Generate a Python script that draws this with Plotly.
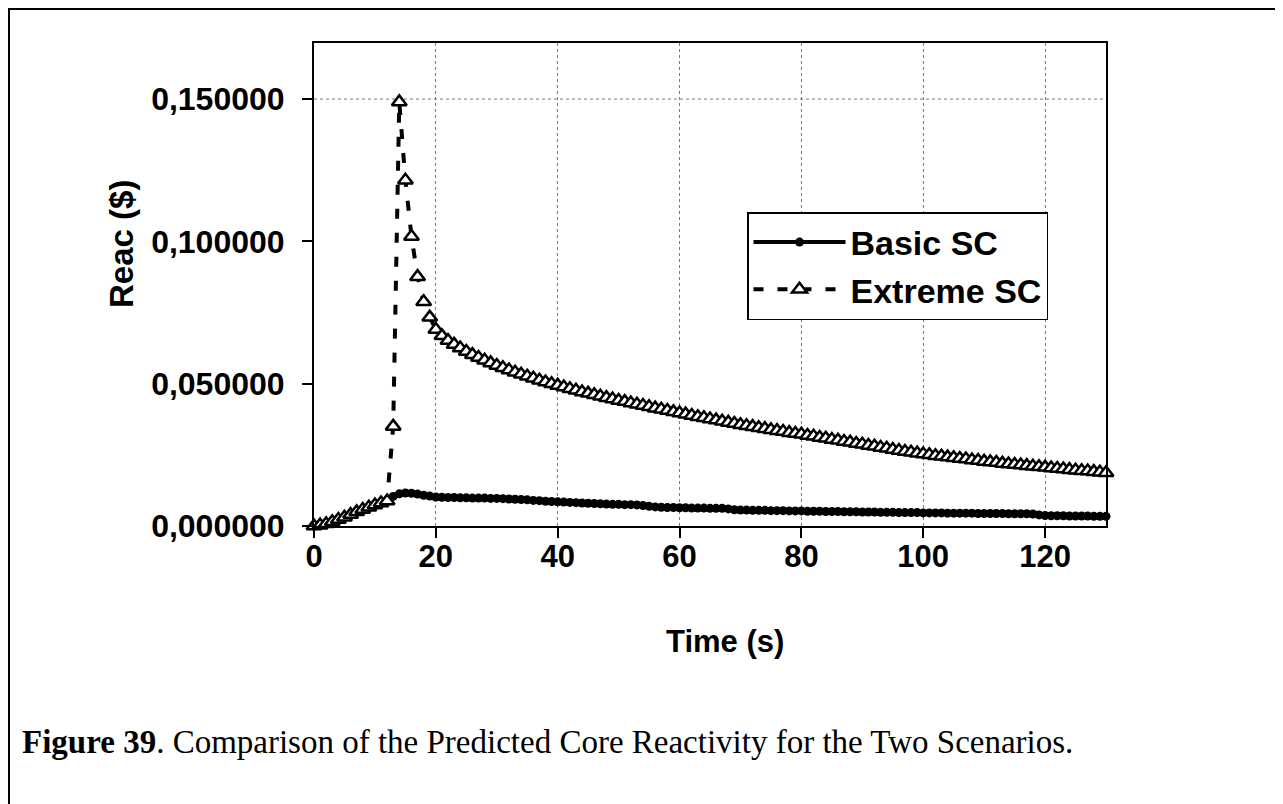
"""
plot.py - core reactivity for the two sub-criticality scenarios
"""
import plotly.graph_objects as go

# time in seconds, one point per second
TIME = list(range(0, 131))

BASIC_SC = [
    0.0000, 0.0003, 0.0008, 0.0015, 0.0023, 0.0031, 0.0040, 0.0050, 0.0058, 0.0066,
    0.0074, 0.0081, 0.0088, 0.0104, 0.0113, 0.0116, 0.0115, 0.0112, 0.0108, 0.0105,
    0.0102, 0.0101, 0.0100, 0.0100, 0.0099, 0.0099, 0.0098, 0.0098, 0.0098, 0.0097,
    0.0097, 0.0096, 0.0095, 0.0094, 0.0093, 0.0092, 0.0090, 0.0089, 0.0087, 0.0086,
    0.0085, 0.0084, 0.0083, 0.0082, 0.0081, 0.0080, 0.0079, 0.0078, 0.0077, 0.0076,
    0.0076, 0.0075, 0.0075, 0.0074, 0.0072, 0.0069, 0.0067, 0.0066, 0.0065, 0.0065,
    0.0064, 0.0064, 0.0063, 0.0063, 0.0063, 0.0062, 0.0062, 0.0062, 0.0060, 0.0057,
    0.0056, 0.0056, 0.0055, 0.0055, 0.0055, 0.0054, 0.0054, 0.0054, 0.0053, 0.0053,
    0.0053, 0.0052, 0.0052, 0.0052, 0.0051, 0.0051, 0.0051, 0.0050, 0.0050, 0.0050,
    0.0049, 0.0049, 0.0049, 0.0048, 0.0048, 0.0048, 0.0047, 0.0047, 0.0047, 0.0047,
    0.0046, 0.0046, 0.0046, 0.0046, 0.0045, 0.0045, 0.0045, 0.0045, 0.0045, 0.0044,
    0.0044, 0.0044, 0.0044, 0.0044, 0.0043, 0.0043, 0.0043, 0.0043, 0.0042, 0.0039,
    0.0037, 0.0036, 0.0036, 0.0036, 0.0035, 0.0035, 0.0035, 0.0035, 0.0034, 0.0034,
    0.0034,
]

EXTREME_SC = [
    0.0000, 0.0003, 0.0008, 0.0015, 0.0023, 0.0031, 0.0040, 0.0050, 0.0058, 0.0066,
    0.0074, 0.0081, 0.0088, 0.0350, 0.1490, 0.1215, 0.1017, 0.0876, 0.0788, 0.0733,
    0.0690, 0.0668, 0.0652, 0.0638, 0.0625, 0.0613, 0.0602, 0.0592, 0.0582, 0.0573,
    0.0564, 0.0556, 0.0548, 0.0540, 0.0533, 0.0526, 0.0519, 0.0512, 0.0506, 0.0500,
    0.0494, 0.0488, 0.0482, 0.0477, 0.0471, 0.0466, 0.0461, 0.0456, 0.0451, 0.0446,
    0.0441, 0.0437, 0.0432, 0.0428, 0.0423, 0.0419, 0.0414, 0.0410, 0.0406, 0.0401,
    0.0397, 0.0393, 0.0388, 0.0384, 0.0380, 0.0376, 0.0372, 0.0368, 0.0364, 0.0360,
    0.0356, 0.0352, 0.0349, 0.0345, 0.0342, 0.0338, 0.0335, 0.0332, 0.0328, 0.0325,
    0.0322, 0.0318, 0.0315, 0.0311, 0.0308, 0.0304, 0.0301, 0.0297, 0.0294, 0.0290,
    0.0287, 0.0283, 0.0280, 0.0276, 0.0273, 0.0269, 0.0265, 0.0262, 0.0259, 0.0256,
    0.0253, 0.0250, 0.0247, 0.0245, 0.0242, 0.0240, 0.0237, 0.0235, 0.0232, 0.0230,
    0.0227, 0.0225, 0.0223, 0.0220, 0.0218, 0.0216, 0.0214, 0.0212, 0.0210, 0.0208,
    0.0206, 0.0204, 0.0202, 0.0200, 0.0198, 0.0196, 0.0194, 0.0193, 0.0191, 0.0189,
    0.0187,
]

SANS = "Liberation Sans, Arial, sans-serif"
SERIF = "Liberation Serif, Times New Roman, serif"

# the page body has an 8px margin, so the figure is drawn from (8, 8)
OFF = 8
W, H = 1275, 796
# plot area on the page: x 314..1106, y 43..526
L, T = 314 - OFF, 43 - OFF
R, B = W - (1106 - OFF), H - (526 - OFF)


def px_x(x):
    # page pixel -> paper x
    return (x - OFF - L) / (W - L - R)


def px_y(y):
    # page pixel -> paper y
    return (H - B - (y - OFF)) / (H - T - B)


fig = go.Figure()

fig.add_trace(go.Scatter(
    x=TIME, y=BASIC_SC, name="Basic SC", mode="lines+markers",
    line=dict(color="black", width=4),
    marker=dict(symbol="circle", size=9, color="black"),
    cliponaxis=False,
))

fig.add_trace(go.Scatter(
    x=TIME, y=EXTREME_SC, name="Extreme SC", mode="lines+markers",
    line=dict(color="black", width=4, dash="10px,14px"),
    marker=dict(symbol="triangle-up", size=13, color="white",
                line=dict(color="black", width=2.5)),
    cliponaxis=False,
))

fig.update_xaxes(
    range=[0, 130], dtick=20, tick0=0,
    showline=True, linecolor="black", linewidth=2, mirror=True,
    ticks="outside", ticklen=10, tickwidth=2, tickcolor="black",
    ticklabelstandoff=-8,
    tickfont=dict(family=SANS, size=31, color="black", weight="bold"),
    showgrid=True, gridcolor="#7a7a7a", gridwidth=1, griddash="dot",
    zeroline=False,
)

fig.update_yaxes(
    range=[0, 0.1697], dtick=0.05, tick0=0, tickformat=".6f",
    showline=True, linecolor="black", linewidth=2, mirror=True,
    ticks="outside", ticklen=10, tickwidth=2, tickcolor="black",
    ticklabelstandoff=11,
    tickfont=dict(family=SANS, size=32, color="black", weight="bold"),
    showgrid=False, zeroline=False,
)

# only the top gridline shows in the source
fig.add_shape(type="line", xref="x", yref="y", x0=0, x1=130, y0=0.15, y1=0.15,
              line=dict(color="#7a7a7a", width=1, dash="dot"), layer="below")

# frame round the whole figure
fig.add_shape(type="rect", xref="paper", yref="paper",
              x0=px_x(9), x1=px_x(1280), y0=px_y(830), y1=px_y(9),
              line=dict(color="black", width=2))

fig.add_annotation(text="Time (s)", xref="paper", yref="paper",
                   x=px_x(725), y=px_y(641), xanchor="center", yanchor="middle",
                   showarrow=False,
                   font=dict(family=SANS, size=31, color="black", weight="bold"))
fig.add_annotation(text="Reac ($)", xref="paper", yref="paper", textangle=-90,
                   x=px_x(121), y=px_y(244), xanchor="center", yanchor="middle",
                   showarrow=False,
                   font=dict(family=SANS, size=33, color="black", weight="bold"))
fig.add_annotation(
    text="<b>Figure 39</b>. Comparison of the Predicted Core Reactivity for the Two Scenarios.",
    xref="paper", yref="paper", x=px_x(20), y=px_y(742),
    xanchor="left", yanchor="middle",
    showarrow=False, font=dict(family=SERIF, size=33, color="black"))

fig.update_layout(
    width=W, height=H,
    margin=dict(l=L, r=R, t=T, b=B),
    paper_bgcolor="white", plot_bgcolor="white",
    separators=",.",
    showlegend=True,
    legend=dict(
        x=px_x(747), y=px_y(212), xanchor="left", yanchor="top",
        bgcolor="white", bordercolor="black", borderwidth=1.5,
        font=dict(family=SANS, size=34, color="black", weight="bold"),
        itemwidth=92, tracegroupgap=0,
    ),
)

fig.write_html("out.html")
